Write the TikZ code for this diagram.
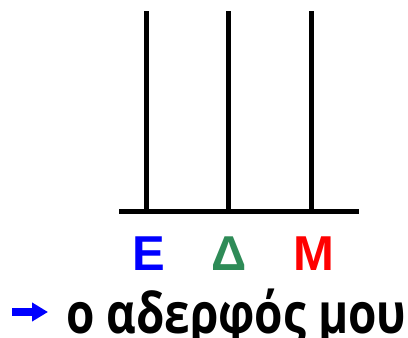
\documentclass[tikz,border=0pt]{standalone}
\usepackage{fontspec}
\usetikzlibrary{arrows.meta}
\setmainfont{Liberation Sans}
\newfontfamily\greekfont[FakeStretch=0.82]{Open Sans}
\definecolor{dgreen}{RGB}{46,139,87}
\begin{document}
\begin{tikzpicture}[x=1pt,y=-1pt,
  bar/.style={line width=5pt},
  letter/.style={font=\fontsize{49}{49}\selectfont\bfseries, anchor=base, inner sep=0pt},
  arr/.style={blue, line width=8pt, -{Triangle[length=16pt,width=18pt]}}]
\useasboundingbox (0,0) rectangle (408,338);
\coordinate (b1) at (146,211);
\coordinate (b2) at (228,211);
\coordinate (b3) at (311,211);
\coordinate (t1) at (146,11);
\coordinate (t2) at (228,11);
\coordinate (t3) at (311,11);
\coordinate (hl) at (119,211);
\coordinate (hr) at (359,211);
\draw[bar] (hl) -- (hr);
\draw[bar] (t1) -- (b1);
\draw[bar] (t2) -- (b2);
\draw[bar] (t3) -- (b3);
\node[letter, text=blue] (e) at (149,270) {E};
\node[letter, text=dgreen] (d) at (229.5,270) {Δ};
\node[letter, text=red] (m) at (314,270) {M};
\coordinate (as) at (12,312);
\coordinate (ae) at (48,312);
\draw[arr] (as) -- (ae);
\node[anchor=base west, inner sep=0pt, font=\greekfont\fontsize{56}{56}\selectfont\bfseries] (txt) at (66,333) {ο αδερφός μου};
\end{tikzpicture}
\end{document}
